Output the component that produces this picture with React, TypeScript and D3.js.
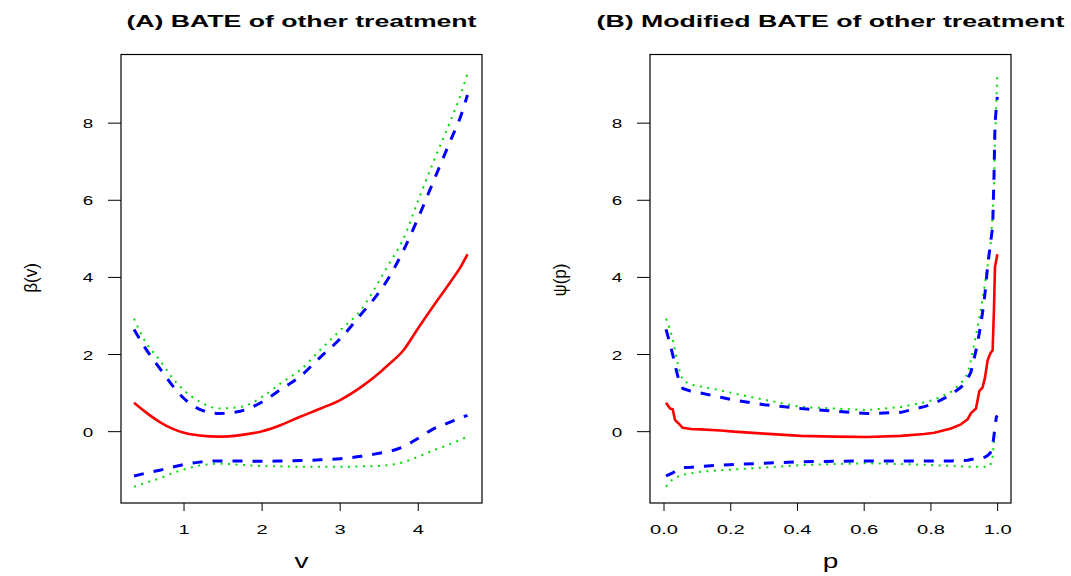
import React from "react";
import * as d3 from "d3";

// ---------- Panel A data ----------
const vGrid = [0.36, 0.5, 0.69, 0.85, 1.0, 1.2, 1.45, 1.72, 2.0, 2.25, 2.48, 2.75, 3.0, 3.27, 3.5, 3.61, 3.81, 4.0, 4.2, 4.4, 4.55, 4.63];
const betaEst = [0.75, 0.52, 0.25, 0.08, -0.03, -0.1, -0.13, -0.09, 0.01, 0.18, 0.38, 0.6, 0.82, 1.16, 1.52, 1.72, 2.11, 2.69, 3.28, 3.85, 4.3, 4.6];
const betaBlueUp = [2.65, 2.18, 1.64, 1.2, 0.86, 0.58, 0.47, 0.53, 0.77, 1.11, 1.42, 1.94, 2.41, 3.05, 3.62, 3.95, 4.7, 5.55, 6.52, 7.49, 8.22, 8.73];
const betaBlueLo = [-1.15, -1.08, -1.0, -0.92, -0.85, -0.79, -0.76, -0.76, -0.77, -0.76, -0.75, -0.73, -0.7, -0.64, -0.56, -0.52, -0.39, -0.17, 0.08, 0.24, 0.37, 0.42];
const betaGreenUp = [2.93, 2.35, 1.85, 1.4, 1.07, 0.78, 0.6, 0.64, 0.9, 1.27, 1.59, 2.13, 2.63, 3.17, 3.91, 4.3, 5.0, 6.0, 7.03, 8.0, 8.78, 9.29];
const betaGreenLo = [-1.43, -1.33, -1.21, -1.08, -0.98, -0.88, -0.83, -0.86, -0.89, -0.9, -0.91, -0.91, -0.91, -0.9, -0.89, -0.87, -0.79, -0.65, -0.48, -0.33, -0.2, -0.13];

// ---------- Panel B data ----------
const pGrid = [0.006, 0.018, 0.026, 0.033, 0.043, 0.056, 0.08, 0.11, 0.17, 0.21, 0.3, 0.41, 0.51, 0.61, 0.71, 0.78, 0.81, 0.86, 0.89, 0.91, 0.92, 0.935, 0.945, 0.955, 0.962, 0.97, 0.978, 0.985, 0.989, 0.992, 0.996, 0.999];
const psiEst = [0.75, 0.6, 0.58, 0.3, 0.22, 0.1, 0.07, 0.06, 0.03, 0.0, -0.05, -0.11, -0.13, -0.14, -0.11, -0.06, -0.03, 0.08, 0.19, 0.32, 0.48, 0.6, 1.05, 1.15, 1.4, 1.85, 2.03, 2.11, 3.2, 4.27, 4.45, 4.6];
const psiBlueUp = [2.65, 2.28, 2.0, 1.72, 1.38, 1.12, 1.05, 1.0, 0.89, 0.82, 0.7, 0.6, 0.53, 0.47, 0.5, 0.65, 0.73, 0.96, 1.15, 1.36, 1.55, 2.1, 2.55, 3.1, 3.58, 4.3, 4.85, 5.31, 6.6, 7.98, 8.4, 8.68];
const psiBlueLo = [-1.15, -1.1, -1.07, -1.03, -0.98, -0.93, -0.92, -0.9, -0.87, -0.85, -0.82, -0.78, -0.77, -0.76, -0.76, -0.76, -0.76, -0.76, -0.75, -0.74, -0.72, -0.7, -0.7, -0.68, -0.66, -0.62, -0.55, -0.35, -0.1, 0.1, 0.38, 0.42];
const psiGreenUp = [2.93, 2.65, 2.41, 2.1, 1.68, 1.33, 1.22, 1.17, 1.07, 0.99, 0.83, 0.64, 0.6, 0.56, 0.64, 0.76, 0.83, 1.03, 1.25, 1.5, 1.85, 2.5, 2.95, 3.45, 3.84, 4.3, 4.75, 5.6, 6.4, 7.55, 8.5, 9.29];
const psiGreenLo = [-1.43, -1.3, -1.24, -1.2, -1.16, -1.12, -1.08, -1.04, -1.0, -0.98, -0.93, -0.87, -0.84, -0.82, -0.84, -0.86, -0.87, -0.89, -0.9, -0.91, -0.91, -0.91, -0.91, -0.91, -0.91, -0.9, -0.88, -0.65, -0.22, -0.16, -0.13, -0.13];

// ---------- ticks & labels ----------
const yTicks = [0, 2, 4, 6, 8];
const xTicksA = [1, 2, 3, 4];
const xTicksB = [0, 0.2, 0.4, 0.6, 0.8, 1.0];
const titleA = "(A) BATE of other treatment";
const titleB = "(B) Modified BATE of other treatment";

const W = 1071;
const H = 576;
const FONT = "'Liberation Sans', Arial, Helvetica, sans-serif";

type Series = { values: number[]; kind: "est" | "blue" | "green" };

function Txt(props: {
  x: number; y: number; size: number; sx?: number; anchor?: string; weight?: string;
  rotate?: boolean; children: React.ReactNode; textLength?: number;
}) {
  const { x, y, size, sx = 1, anchor = "middle", weight = "normal", rotate = false, textLength } = props;
  const tf = rotate
    ? `translate(${x},${y}) rotate(-90) scale(${sx},1)`
    : `translate(${x},${y}) scale(${sx},1)`;
  return (
    <text
      transform={tf}
      fontFamily={FONT}
      fontSize={size}
      fontWeight={weight}
      textAnchor={anchor}
      fill="#000"
      textLength={textLength}
      lengthAdjust={textLength ? "spacingAndGlyphs" : undefined}
    >
      {props.children}
    </text>
  );
}

function Panel(props: {
  left: number; right: number; top: number; bottom: number;
  xDomain: [number, number]; yDomain: [number, number];
  xs: number[]; series: Series[]; xTicks: number[]; xFmt: (d: number) => string;
  title: string; titleLen: number; xlab: string; ylab: string; ylabX: number; ylabY: number;
  smooth: boolean;
}) {
  const { left, right, top, bottom } = props;
  const x = d3.scaleLinear().domain(props.xDomain).range([left, right]);
  const y = d3.scaleLinear().domain(props.yDomain).range([bottom, top]);
  const line = d3
    .line<[number, number]>()
    .x((d) => x(d[0]))
    .y((d) => y(d[1]))
    .curve(props.smooth ? d3.curveMonotoneX : d3.curveLinear);
  const style = (k: Series["kind"]) => {
    if (k === "est") return { stroke: "#ff0000", strokeWidth: 2.6, dash: undefined };
    if (k === "blue") return { stroke: "#0000ff", strokeWidth: 3, dash: "10 10" };
    return { stroke: "#00dd00", strokeWidth: 2, dash: "2 5.5" };
  };
  const cx = (left + right) / 2;
  return (
    <g>
      {props.series.map((s, i) => {
        const st = style(s.kind);
        const pts = props.xs.map((v, j) => [v, s.values[j]] as [number, number]);
        return (
          <path
            key={i}
            d={line(pts) || ""}
            fill="none"
            stroke={st.stroke}
            strokeWidth={st.strokeWidth}
            strokeDasharray={st.dash}
            strokeLinejoin="round"
          />
        );
      })}
      <rect x={left} y={top} width={right - left} height={bottom - top} fill="none" stroke="#000" strokeWidth={1.2} />
      {yTicks.map((t) => (
        <g key={"y" + t}>
          <line x1={left - 13} x2={left} y1={y(t)} y2={y(t)} stroke="#000" strokeWidth={1} />
          <Txt x={left - 33} y={y(t) + 5} size={13} sx={1.45}>{String(t)}</Txt>
        </g>
      ))}
      {props.xTicks.map((t) => (
        <g key={"x" + t}>
          <line x1={x(t)} x2={x(t)} y1={bottom} y2={bottom + 8} stroke="#000" strokeWidth={1} />
          <Txt x={x(t)} y={bottom + 31} size={13} sx={1.55}>{props.xFmt(t)}</Txt>
        </g>
      ))}
      <Txt x={cx} y={27} size={16} weight="bold" textLength={props.titleLen}>{props.title}</Txt>
      <Txt x={cx} y={567.5} size={20} sx={1.4}>{props.xlab}</Txt>
      <Txt x={props.ylabX} y={props.ylabY} size={19} sx={0.9} rotate>{props.ylab}</Txt>
    </g>
  );
}

export default function App() {
  const seriesA: Series[] = [
    { values: betaGreenUp, kind: "green" },
    { values: betaGreenLo, kind: "green" },
    { values: betaBlueUp, kind: "blue" },
    { values: betaBlueLo, kind: "blue" },
    { values: betaEst, kind: "est" },
  ];
  const seriesB: Series[] = [
    { values: psiGreenUp, kind: "green" },
    { values: psiGreenLo, kind: "green" },
    { values: psiBlueUp, kind: "blue" },
    { values: psiBlueLo, kind: "blue" },
    { values: psiEst, kind: "est" },
  ];
  return (
    <svg width={W} height={H} style={{ display: "block", position: "absolute", left: 0, top: 0, background: "#fff" }}>
      <rect x={0} y={0} width={W} height={H} fill="#fff" />
      <Panel
        left={121} right={482} top={54.5} bottom={503}
        xDomain={[0.193, 4.816]} yDomain={[-1.85, 9.78]}
        xs={vGrid} series={seriesA} xTicks={xTicksA} xFmt={(d) => String(d)}
        title={titleA} titleLen={350} xlab="v" ylab="β(v)" ylabX={36.5} ylabY={278}
        smooth={true}
      />
      <Panel
        left={650} right={1011} top={54.5} bottom={503}
        xDomain={[-0.042, 1.04]} yDomain={[-1.85, 9.78]}
        xs={pGrid} series={seriesB} xTicks={xTicksB} xFmt={(d) => d.toFixed(1)}
        title={titleB} titleLen={468} xlab="p" ylab="ψ(p)" ylabX={566} ylabY={280}
        smooth={false}
      />
    </svg>
  );
}
